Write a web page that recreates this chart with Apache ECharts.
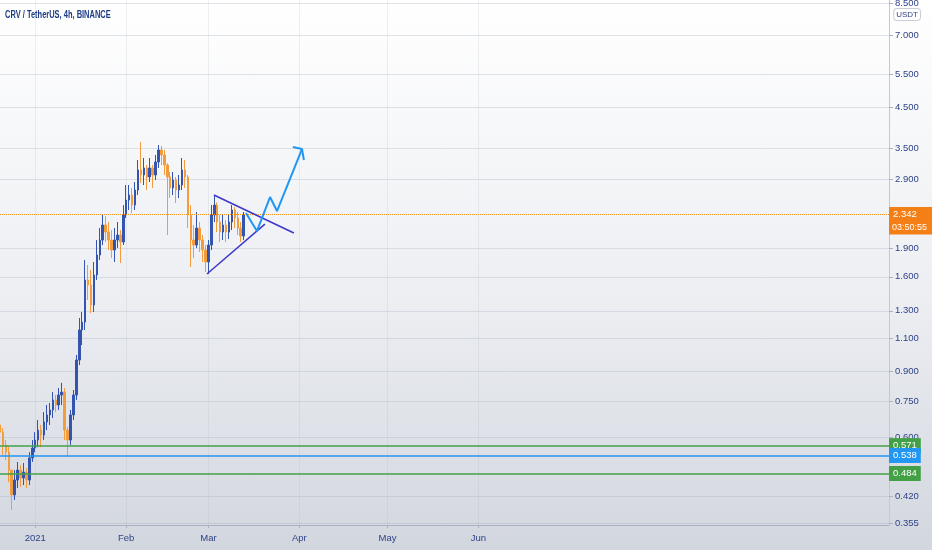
<!DOCTYPE html>
<html>
<head>
<meta charset="utf-8">
<title>CRV / TetherUS, 4h, BINANCE</title>
<script src="https://cdn.jsdelivr.net/npm/echarts@6/dist/echarts.min.js"></script>
<style>
  html, body { margin: 0; padding: 0; }
  #chart { width: 932px; height: 550px; background: linear-gradient(#ffffff 0%, #eceef2 55%, #d2d6de 100%); }
</style>
</head>
<body>
<div id="chart"></div>
<script>
// daily candles, first one on 2020-12-20
const DAY = 86400000
const firstDay = Date.UTC(2020, 11, 20)

const opens = [
  0.648, 0.620, 0.573, 0.549, 0.492, 0.423, 0.463, 0.492, 0.469, 0.486,
  0.463, 0.530, 0.563, 0.591, 0.628, 0.609, 0.660, 0.689, 0.710, 0.755,
  0.732, 0.778, 0.792, 0.628, 0.591, 0.689, 0.778, 0.963, 1.157, 1.214,
  1.569, 1.522, 1.347, 1.618, 1.828, 2.003, 2.195, 2.103, 2.003, 1.885,
  2.003, 2.065, 1.979, 2.334, 2.557, 2.636, 2.480, 2.718, 3.071, 2.980,
  3.109, 2.943, 3.109, 2.979, 3.225, 3.470, 3.366, 3.166, 2.943, 2.752,
  2.889, 2.718, 2.802, 3.071, 2.943, 2.334, 2.003, 1.943, 2.155, 2.003,
  1.885, 1.752, 1.943, 2.334, 2.480, 2.236, 2.103, 2.195, 2.103, 2.236,
  2.406, 2.291, 2.155, 2.053
]
const closes = [
  0.620, 0.573, 0.549, 0.492, 0.423, 0.463, 0.492, 0.469, 0.486, 0.463,
  0.530, 0.563, 0.591, 0.628, 0.609, 0.660, 0.689, 0.710, 0.755, 0.732,
  0.778, 0.792, 0.628, 0.591, 0.689, 0.778, 0.963, 1.157, 1.214, 1.569,
  1.522, 1.347, 1.618, 1.828, 2.003, 2.195, 2.103, 2.003, 1.885, 2.003,
  2.065, 1.979, 2.334, 2.557, 2.636, 2.480, 2.718, 3.071, 2.980, 3.109,
  2.943, 3.109, 2.979, 3.225, 3.470, 3.366, 3.166, 2.943, 2.752, 2.889,
  2.718, 2.802, 3.071, 2.943, 2.334, 2.003, 1.943, 2.155, 2.003, 1.885,
  1.752, 1.943, 2.334, 2.480, 2.236, 2.103, 2.195, 2.103, 2.236, 2.406,
  2.291, 2.155, 2.053, 2.342
]
const lows = [
  0.609, 0.539, 0.523, 0.457, 0.386, 0.410, 0.441, 0.444, 0.449, 0.441,
  0.449, 0.517, 0.549, 0.566, 0.566, 0.591, 0.628, 0.648, 0.676, 0.701,
  0.710, 0.732, 0.591, 0.533, 0.573, 0.668, 0.755, 0.934, 1.055, 1.157,
  1.389, 1.283, 1.291, 1.569, 1.773, 1.943, 1.979, 1.885, 1.795, 1.752,
  1.908, 1.741, 1.943, 2.291, 2.406, 2.362, 2.406, 2.636, 2.837, 2.802,
  2.718, 2.854, 2.752, 2.889, 3.109, 3.166, 2.979, 2.065, 2.589, 2.636,
  2.511, 2.589, 2.718, 2.752, 2.155, 1.699, 1.795, 1.908, 1.862, 1.752,
  1.648, 1.628, 1.885, 2.236, 2.103, 1.979, 2.003, 1.979, 2.015, 2.129,
  2.155, 2.065, 1.979, 2.003
]
const highs = [
  0.668, 0.636, 0.591, 0.566, 0.492, 0.492, 0.517, 0.507, 0.514, 0.498,
  0.549, 0.591, 0.620, 0.668, 0.648, 0.701, 0.732, 0.741, 0.792, 0.778,
  0.812, 0.838, 0.812, 0.640, 0.710, 0.802, 0.993, 1.245, 1.291, 1.773,
  1.720, 1.668, 1.752, 2.003, 2.155, 2.334, 2.320, 2.236, 2.129, 2.155,
  2.236, 2.129, 2.480, 2.802, 2.802, 2.752, 2.854, 3.264, 3.643, 3.305,
  3.166, 3.305, 3.166, 3.366, 3.577, 3.556, 3.470, 3.200, 3.034, 3.034,
  2.943, 2.979, 3.305, 3.264, 2.979, 2.480, 2.195, 2.377, 2.236, 2.065,
  1.943, 2.003, 2.480, 2.620, 2.520, 2.334, 2.334, 2.263, 2.334, 2.480,
  2.450, 2.377, 2.236, 2.377
]

const priceTicks = [8.5, 7, 5.5, 4.5, 3.5, 2.9, 1.9, 1.6, 1.3, 1.1, 0.9, 0.75, 0.6, 0.42, 0.355]
const monthTicks = ['2021-01-01', '2021-02-01', '2021-03-01', '2021-04-01', '2021-05-01', '2021-06-01']
const monthLabels = ['2021', 'Feb', 'Mar', 'Apr', 'May', 'Jun']

// horizontal levels drawn on the chart
const lastPrice = 2.342
const countdown = '03:50:55'
const levels = [
  { price: 0.571, color: '#43a047' },
  { price: 0.538, color: '#2196f3' },
  { price: 0.484, color: '#43a047' }
]

// hand drawn annotations: [time, price]
const triangleUpper = [['2021-03-02T21:00', 2.636], ['2021-03-30T03:00', 2.091]]
const triangleLower = [['2021-02-28T12:00', 1.628], ['2021-03-20T06:00', 2.208]]
const arrowPath = [
  ['2021-03-13T19:00', 2.362], ['2021-03-17T13:00', 2.116], ['2021-03-22T00:00', 2.604],
  ['2021-03-24T09:00', 2.391], ['2021-04-01T21:00', 3.491]
]
const arrowHead = [['2021-03-29T19:00', 3.534], ['2021-04-01T21:00', 3.491], ['2021-04-02T13:00', 3.264]]

const priceLow = 0.3519
const priceHigh = 8.667
const axisStart = Date.UTC(2020, 11, 20)
const axisEnd = Date.UTC(2021, 9, 18, 21)

const FONT = "'Liberation Sans Narrow', 'Arial Narrow', 'Liberation Sans', sans-serif"
const TEXT_COLOR = '#2f4386'
const UP = '#3355b0'
const DOWN = '#f39c3d'

const toTime = s => new Date(s + 'Z').getTime()
const toPoints = pts => pts.map(([t, p]) => [toTime(t), Math.log(p)])
const tickTimes = monthTicks.map(s => toTime(s + 'T00:00'))

const candles = opens.map((o, i) => [
  firstDay + i * DAY,
  Math.log(o), Math.log(closes[i]), Math.log(lows[i]), Math.log(highs[i])
])

const tagLabel = (text, color, extra) => Object.assign({
  show: true,
  position: 'end',
  distance: 0,
  formatter: text,
  color: '#fff',
  fontSize: 9.5,
  fontFamily: FONT,
  lineHeight: 11,
  padding: [2, 4, 2, 4],
  backgroundColor: color
}, extra || {})

const markLines = [
  {
    yAxis: Math.log(lastPrice),
    lineStyle: { color: '#f7931a', type: 'dotted', width: 1 },
    label: tagLabel(lastPrice.toFixed(3), '#f57f17', { width: 35 })
  }
].concat(levels.map(l => ({
  yAxis: Math.log(l.price),
  lineStyle: { color: l.color, type: 'solid', width: 1.5 },
  label: tagLabel(l.price.toFixed(3), l.color)
})))

const drawing = (name, pts, color, width) => ({
  name,
  type: 'line',
  data: toPoints(pts),
  symbol: 'none',
  silent: true,
  z: 5,
  lineStyle: { color, width },
  clip: true
})

const chart = echarts.init(document.getElementById('chart'), null, { renderer: 'canvas' })

chart.setOption({
  animation: false,
  textStyle: { fontFamily: FONT },
  grid: { left: 0, right: 43, top: 0, bottom: 25, containLabel: false, outerBoundsMode: 'none' },
  xAxis: {
    // timestamps on a plain value axis so the month ticks can be placed exactly
    type: 'value',
    min: axisStart,
    max: axisEnd,
    axisLine: { show: true, onZero: false, lineStyle: { color: '#aab3c6', width: 1 } },
    axisTick: { show: true, length: 3, customValues: tickTimes, lineStyle: { color: '#aab3c6' } },
    axisLabel: {
      customValues: tickTimes,
      formatter: v => {
        const i = tickTimes.findIndex(t => Math.abs(t - v) < DAY / 2)
        return i >= 0 ? monthLabels[i] : ''
      },
      color: TEXT_COLOR,
      fontSize: 9.5,
      fontFamily: FONT,
      margin: 8
    },
    splitLine: { show: true, lineStyle: { color: 'rgba(170,178,196,0.2)', width: 1 } }
  },
  yAxis: {
    type: 'value',
    position: 'right',
    min: Math.log(priceLow),
    max: Math.log(priceHigh),
    axisLine: { show: true, onZero: false, lineStyle: { color: '#c2c8d4', width: 1 } },
    axisTick: { show: true, length: 4, customValues: priceTicks.map(Math.log), lineStyle: { color: '#aab3c6' } },
    axisLabel: {
      customValues: priceTicks.map(Math.log),
      formatter: v => Math.exp(v).toFixed(3),
      color: TEXT_COLOR,
      fontSize: 9.5,
      fontFamily: FONT,
      margin: 6
    },
    splitLine: { show: true, lineStyle: { color: 'rgba(170,178,196,0.35)', width: 1 } }
  },
  graphic: [
    {
      // chart title, squeezed like the narrow TradingView caption
      id: 'title',
      type: 'text',
      x: 5,
      y: 9,
      scaleX: 0.68,
      z: 10,
      style: { text: 'CRV / TetherUS, 4h, BINANCE', fill: '#1d3c85', font: 'bold 11px ' + FONT }
    },
    {
      id: 'unit',
      type: 'text',
      right: 11,
      top: 8,
      z: 10,
      style: {
        text: 'USDT',
        fill: TEXT_COLOR,
        font: '8px ' + FONT,
        backgroundColor: '#ffffff',
        borderColor: '#c8cdd8',
        borderWidth: 1,
        borderRadius: 3,
        padding: [2, 2, 1, 2]
      }
    }
  ],
  series: [
    {
      name: 'CRV/USDT',
      type: 'candlestick',
      data: candles,
      barWidth: 2,
      itemStyle: {
        color: UP,
        color0: DOWN,
        borderColor: UP,
        borderColor0: DOWN,
        borderWidth: 1
      },
      markLine: {
        silent: true,
        symbol: ['none', 'none'],
        animation: false,
        data: markLines
      }
    },
    drawing('triangle upper', triangleUpper, '#3d37c9', 1.5),
    drawing('triangle lower', triangleLower, '#3d37c9', 1.5),
    drawing('path', arrowPath, '#2196f3', 2),
    drawing('arrow head', arrowHead, '#2196f3', 2)
  ]
})

// countdown under the last price tag, placed with the axis scales
const tagY = chart.convertToPixel({ yAxisIndex: 0 }, Math.log(lastPrice))
const tagX = chart.convertToPixel({ xAxisIndex: 0 }, axisEnd)
chart.setOption({
  graphic: [
    {
      id: 'countdown-box',
      type: 'rect',
      z: 20,
      shape: { x: tagX, y: tagY + 7, width: 43, height: 13 },
      style: { fill: '#f57f17' }
    },
    {
      id: 'countdown-text',
      type: 'text',
      z: 21,
      x: tagX + 3,
      y: tagY + 9,
      style: { text: countdown, fill: '#ffffff', font: '9px ' + FONT }
    }
  ]
})
</script>
</body>
</html>
